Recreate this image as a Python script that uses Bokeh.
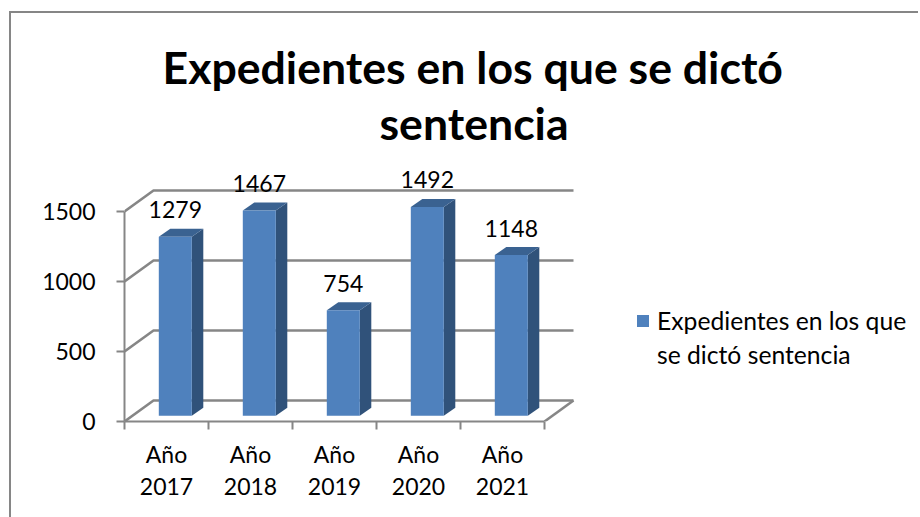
from bokeh.plotting import figure
from bokeh.models import LinearAxis, FixedTicker, Range1d, Title, Legend, LegendItem
from bokeh.embed import file_html
from bokeh.resources import INLINE
from bokeh.core.properties import value

title_lines = ["Expedientes en los que se dictó", "sentencia"]
series_lines = ["Expedientes en los que", "se dictó sentencia"]
categories = ["Año\n2017", "Año\n2018", "Año\n2019", "Año\n2020", "Año\n2021"]
values = [1279, 1467, 754, 1492, 1148]
y_ticks = [0, 500, 1000, 1500]

FONT = "Lato"
GRAY = "#868686"
FRONT, SIDE, TOP = "#4F81BD", "#30527A", "#3A6291"

PX_X = 84.0
PX_Y = 0.14
W, H = 909, 506
LEFT, TOPB, BOTTOM = 113, 136, 98
FW, FH = W - LEFT, H - TOPB - BOTTOM
p = figure(width=W, height=H, output_backend="svg", toolbar_location=None,
           x_range=Range1d(0, FW / PX_X), y_range=Range1d(0, FH * 1.0 / PX_Y),
           min_border_left=LEFT, min_border_right=0, min_border_bottom=BOTTOM, min_border_top=TOPB,
           outline_line_color=None, x_axis_type=None, y_axis_type=None, margin=(11, 0, 0, 9),
           styles={"border-top": f"2px solid {GRAY}", "border-left": f"2px solid {GRAY}"})
p.grid.visible = False

p.add_layout(Title(text=title_lines[1], text_font=FONT, text_font_size="44.6px", text_font_style="bold",
                   text_color="black", align="left", offset=255, standoff=2), "above")
p.add_layout(Title(text=title_lines[0], text_font=FONT, text_font_size="44.6px", text_font_style="bold",
                   text_color="black", align="left", offset=38, standoff=0), "above")

ya = LinearAxis(ticker=FixedTicker(ticks=y_ticks))
ya.axis_line_color = GRAY; ya.axis_line_width = 2
ya.major_tick_line_color = GRAY; ya.major_tick_line_width = 2
ya.major_tick_out = 8; ya.major_tick_in = 0
ya.minor_tick_line_color = None
ya.major_label_text_font = FONT; ya.major_label_text_font_size = "23px"
ya.major_label_text_color = "black"; ya.major_label_standoff = 21
ya.bounds = (0, 1500)
p.add_layout(ya, "left")

n = len(categories)
xa = LinearAxis(ticker=FixedTicker(ticks=[i + 0.5 for i in range(n)], minor_ticks=list(range(n + 1))),
                major_label_overrides={i + 0.5: c for i, c in enumerate(categories)})
xa.axis_line_color = GRAY; xa.axis_line_width = 2
xa.major_tick_line_color = None
xa.minor_tick_line_color = GRAY; xa.minor_tick_line_width = 2
xa.minor_tick_out = 8; xa.minor_tick_in = 0
xa.major_label_text_font = FONT; xa.major_label_text_font_size = "23px"
xa.major_label_text_line_height = 1.15
xa.major_label_text_color = "black"; xa.major_label_standoff = 10
xa.bounds = (0, n)
p.add_layout(xa, "below")

# 3-D box: walls
DX, DY = 29 / PX_X, 21 / PX_Y
for v in y_ticks:
    p.line([0, DX, n + DX], [v, v + DY, v + DY], line_color=GRAY, line_width=2.6)
p.line([n, n + DX], [0, DY], line_color=GRAY, line_width=2.6)

# bars
bx, bw = 34.3 / PX_X, 33 / PX_X
dx, dy = 11.5 / PX_X, 8 / PX_Y
base = 5.7 / PX_Y
lefts = [i + bx for i in range(n)]
rights = [l + bw for l in lefts]
tops = [v + base for v in values]
bottoms = [base] * n
p.patches([[r, r + dx, r + dx, r] for r in rights],
          [[b, b + dy, t + dy, t] for b, t in zip(bottoms, tops)], fill_color=SIDE, line_color=None)
p.patches([[l, l + dx, r + dx, r] for l, r in zip(lefts, rights)],
          [[t, t + dy, t + dy, t] for t in tops], fill_color=TOP, line_color=None)
bars = p.quad(left=lefts, right=rights, bottom=bottoms, top=tops, fill_color=FRONT, line_color=None)

p.text([(l + r) / 2 for l, r in zip(lefts, rights)], tops, text=[str(v) for v in values],
       text_font=value(FONT), text_font_size="23px", text_color="black",
       text_align="center", text_baseline="middle", y_offset=-27)

leg = Legend(items=[LegendItem(label=value(series_lines[0]), renderers=[bars]),
                    LegendItem(label=value(series_lines[1]), renderers=[])],
             location=(511, 52), border_line_color=None, background_fill_alpha=0,
             label_text_font=FONT, label_text_font_size="24.7px", label_text_color="black",
             glyph_width=15, glyph_height=15, label_standoff=7, padding=0, margin=0, spacing=5)
p.add_layout(leg, "center")

open("out.html", "w").write(file_html(p, INLINE))
